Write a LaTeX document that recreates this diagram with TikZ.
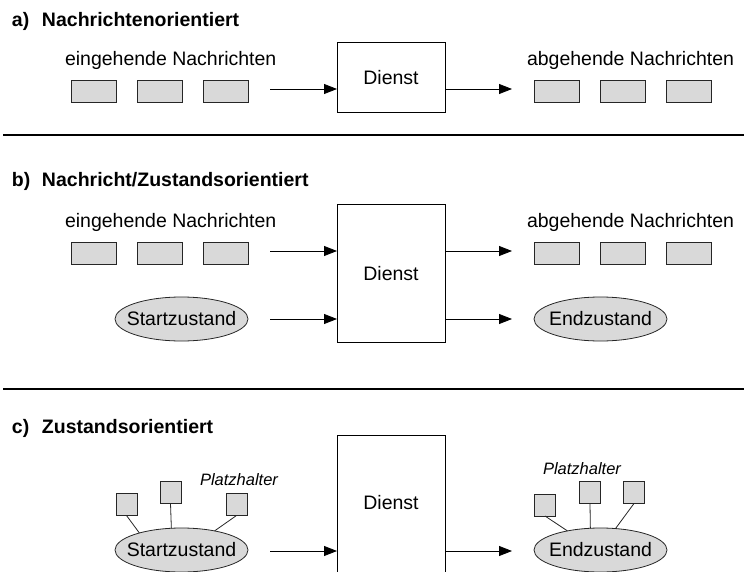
\documentclass[tikz,border=0pt]{standalone}
\usepackage{fontspec}
\setmainfont{Liberation Sans}
\usetikzlibrary{arrows.meta,shapes.geometric}
\definecolor{boxfill}{RGB}{217,217,217}
\begin{document}
\begin{tikzpicture}[x=1pt,y=-1pt,
 every node/.style={inner sep=0pt, outer sep=0pt},
 txt/.style={font=\fontsize{19.5}{23}\selectfont, anchor=base west},
 ttl/.style={font=\fontsize{19.5}{23}\selectfont\bfseries, anchor=base west},
 ph/.style={font=\fontsize{16.5}{20}\selectfont\itshape, anchor=base west},
 msg/.style={draw=black!85, line width=0.8pt, fill=boxfill, minimum width=45pt, minimum height=22pt},
 sq/.style={draw=black!85, line width=0.8pt, fill=boxfill, minimum width=21pt, minimum height=22pt},
 dienst/.style={draw, line width=1pt, fill=white, minimum width=108pt, font=\fontsize{19.5}{23}\selectfont},
 state/.style={ellipse, draw=black!85, line width=0.8pt, fill=boxfill, inner xsep=-10pt, inner ysep=0pt, minimum width=133pt, minimum height=44pt, font=\fontsize{19.5}{23}\selectfont},
 arr/.style={line width=0.8pt, -{Triangle[length=13pt,width=10pt]}},
 conn/.style={line width=0.8pt, draw=black!85},
 sep/.style={line width=1.2pt}
]
\useasboundingbox (0,0) rectangle (744,572);
\clip (0,0) rectangle (744,572);

% ---------- a) ----------
\node[ttl] (ta) at (12,27) {\makebox[30pt][l]{a)}Nachrichtenorientiert};
\node[txt] (ina) at (65,66) {eingehende Nachrichten};
\node[msg] (a1) at (93.5,91) {};
\node[msg] (a2) at (160,91) {};
\node[msg] (a3) at (226,91) {};
\node[dienst, minimum height=70pt] (da) at (391,77.5) {Dienst};
\coordinate (ain) at (270,89);
\coordinate (aout) at (512,89);
\draw[arr] (ain) -- (ain -| da.west);
\draw[arr] (aout -| da.east) -- (aout);
\node[txt] (outa) at (527,66) {abgehende Nachrichten};
\node[msg] (a4) at (556.5,91) {};
\node[msg] (a5) at (623,91) {};
\node[msg] (a6) at (689,91) {};
\coordinate (s1a) at (3,135);
\coordinate (s1b) at (744,135);
\draw[sep] (s1a) -- (s1b);

% ---------- b) ----------
\node[ttl] (tb) at (12,187) {\makebox[30pt][l]{b)}Nachricht/Zustandsorientiert};
\node[txt] (inb) at (65,227) {eingehende Nachrichten};
\node[msg] (b1) at (93.5,253.5) {};
\node[msg] (b2) at (160,253.5) {};
\node[msg] (b3) at (226,253.5) {};
\node[dienst, minimum height=137pt] (db) at (391,273.5) {Dienst};
\node[state] (sb) at (181.5,319) {Startzustand};
\node[state] (eb) at (600.5,319) {Endzustand};
\coordinate (bin1) at (270,251);
\coordinate (bin2) at (270,319);
\coordinate (bout1) at (512,251);
\coordinate (bout2) at (512,319);
\draw[arr] (bin1) -- (bin1 -| db.west);
\draw[arr] (bin2) -- (bin2 -| db.west);
\draw[arr] (bout1 -| db.east) -- (bout1);
\draw[arr] (bout2 -| db.east) -- (bout2);
\node[txt] (outb) at (527,227) {abgehende Nachrichten};
\node[msg] (b4) at (556.5,253.5) {};
\node[msg] (b5) at (623,253.5) {};
\node[msg] (b6) at (689,253.5) {};
\coordinate (s2a) at (3,389);
\coordinate (s2b) at (744,389);
\draw[sep] (s2a) -- (s2b);

% ---------- c) ----------
\node[ttl] (tc) at (12,433) {\makebox[30pt][l]{c)}Zustandsorientiert};
\node[dienst, minimum height=180pt] (dc) at (391,525) {};
\node[font=\fontsize{19.5}{23}\selectfont] (dct) at (391,503) {Dienst};
\node[state] (sc) at (181.5,550) {Startzustand};
\node[state] (ec) at (600.5,550) {Endzustand};
\coordinate (cin) at (270,551);
\coordinate (cout) at (512,551);
\draw[arr] (cin) -- (cin -| dc.west);
\draw[arr] (cout -| dc.east) -- (cout);

\node[ph] (phl) at (200,485) {Platzhalter};
\node[sq] (cl1) at (126.5,504.5) {};
\node[sq] (cl2) at (170.5,492.5) {};
\node[sq] (cl3) at (236.5,504.5) {};
\draw[conn] (cl1.south) -- (sc.158);
\draw[conn] (cl2.south) -- (sc.115);
\draw[conn] (cl3.south) -- (sc.30);

\node[ph] (phr) at (543,474) {Platzhalter};
\node[sq] (cr1) at (545,505) {};
\node[sq] (cr2) at (590,492.5) {};
\node[sq] (cr3) at (634,492.5) {};
\draw[conn] (cr1.south) -- (ec.150);
\draw[conn] (cr2.south) -- (ec.115);
\draw[conn] (cr3.south) -- (ec.55);
\end{tikzpicture}
\end{document}
